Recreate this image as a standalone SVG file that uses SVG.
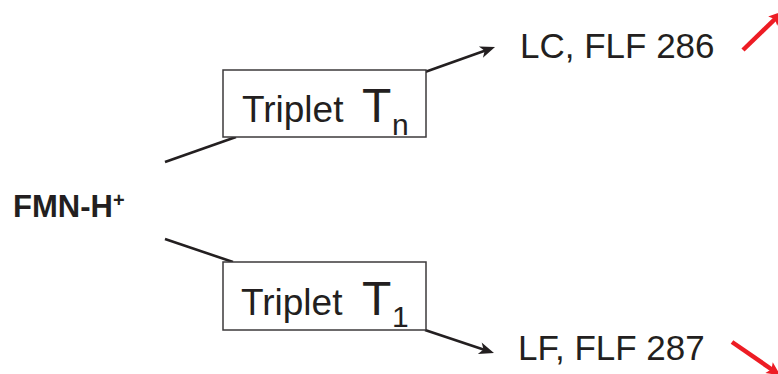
<svg xmlns="http://www.w3.org/2000/svg" width="778" height="374" viewBox="0 0 778 374">
<style>
.box{fill:#fff;stroke:#3c3a3b;stroke-width:1.5}
.lbl{font-family:"Liberation Sans",Arial,sans-serif;fill:#231f20}
.con{fill:none;stroke:#231f20;stroke-width:2.6;stroke-linecap:butt}
.red{fill:none;stroke:#ed1c24;stroke-width:4.5}
</style>
<defs>
<marker id="ah" viewBox="-16 -8 17 16" markerWidth="17" markerHeight="16" refX="-8" refY="0" orient="auto" markerUnits="userSpaceOnUse">
<path d="M0,0 L-15,-6 L-11,0 L-15,6 Z" fill="#231f20"/>
</marker>
<marker id="ahr" viewBox="-16 -8 17 16" markerWidth="17" markerHeight="16" refX="-8" refY="0" orient="auto" markerUnits="userSpaceOnUse">
<path d="M0,0 L-14,-6.5 L-11,0 L-14,6.5 Z" fill="#ed1c24"/>
</marker>
</defs>
<rect width="778" height="374" fill="#fff"/>
<g id="connectors">
<line class="con" x1="165" y1="162" x2="236" y2="137"/>
<line class="con" x1="165" y1="239" x2="233" y2="262"/>
<line class="con" x1="425" y1="72" x2="487.5" y2="49.7" marker-end="url(#ah)"/>
<line class="con" x1="425" y1="330" x2="486.4" y2="350.5" marker-end="url(#ah)"/>
<line class="red" x1="743" y1="50" x2="777" y2="17" marker-end="url(#ahr)"/>
<line class="red" x1="732" y1="342" x2="774" y2="371" marker-end="url(#ahr)"/>
</g>
<g id="fmn">
<text class="lbl" x="13" y="217" font-size="31" font-weight="bold">FMN-H</text>
<text class="lbl" x="113" y="207" font-size="20" font-weight="bold">+</text>
</g>
<g id="tripletN">
<rect class="box" x="223" y="70" width="203" height="67"/>
<text class="lbl" x="242" y="122" font-size="37">Triplet</text>
<text class="lbl" x="362" y="122" font-size="48">T</text>
<text class="lbl" x="392" y="135" font-size="30">n</text>
</g>
<g id="triplet1">
<rect class="box" x="223" y="262" width="203" height="68"/>
<text class="lbl" x="241" y="315" font-size="37">Triplet</text>
<text class="lbl" x="362" y="315" font-size="48">T</text>
<text class="lbl" x="392" y="327" font-size="30">1</text>
</g>
<g id="lc">
<text class="lbl" x="520" y="58" font-size="35">LC, FLF 286</text>
</g>
<g id="lf">
<text class="lbl" x="518" y="360" font-size="35">LF, FLF 287</text>
</g>
</svg>
